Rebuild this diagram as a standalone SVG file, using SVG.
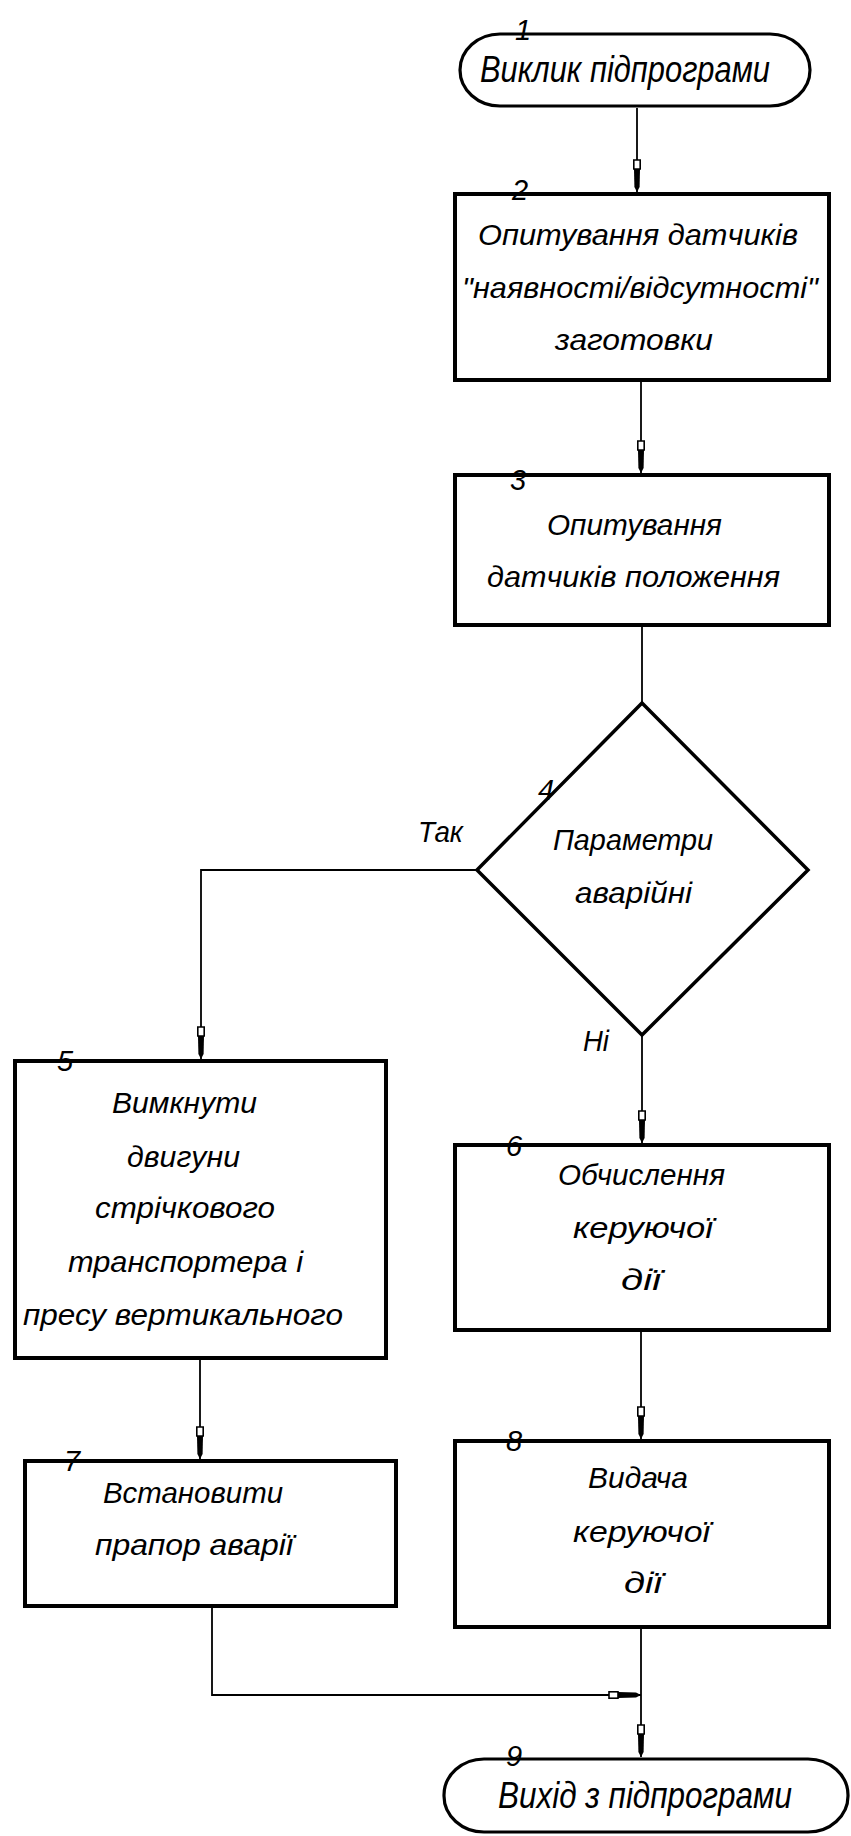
<svg xmlns="http://www.w3.org/2000/svg" width="851" height="1836" viewBox="0 0 851 1836">
<style>
  .bg { fill: #ffffff; }
  .box { fill: #ffffff; stroke: #000; stroke-width: 4; }
  .term { fill: #ffffff; stroke: #000; stroke-width: 3.2; }
  .dia { fill: #ffffff; stroke: #000; stroke-width: 3.5; stroke-linejoin: miter; }
  .con { fill: none; stroke: #000; stroke-width: 1.8; }
  .t { font-family: "Liberation Sans", "DejaVu Sans", sans-serif; font-style: italic; font-size: 30px; fill: #000; }
  .tt { font-family: "Liberation Sans", "DejaVu Sans", sans-serif; font-style: italic; font-size: 37px; fill: #000; }
  .n { font-family: "Liberation Sans", "DejaVu Sans", sans-serif; font-style: italic; font-size: 29px; fill: #000; text-anchor: middle; }
  .lbl { font-family: "Liberation Sans", "DejaVu Sans", sans-serif; font-style: italic; font-size: 30px; fill: #000; }
</style>
<defs>
  <marker id="arr" markerUnits="userSpaceOnUse" markerWidth="34" markerHeight="10" viewBox="0 -5 34 10" refX="33" refY="0" orient="auto">
    <rect x="1" y="-3.2" width="9" height="6.4" fill="#fff" stroke="#000" stroke-width="1.6"/>
    <path d="M10,-3 L28,-2.6 L33,0 L28,2.6 L10,3 Z" fill="#000"/>
  </marker>
</defs>
<rect class="bg" x="0" y="0" width="851" height="1836"/>

<g id="connectors">
  <path class="con" d="M637,108 V192" marker-end="url(#arr)"/>
  <path class="con" d="M641,382 V473" marker-end="url(#arr)"/>
  <path class="con" d="M642,626 V703"/>
  <path class="con" d="M477,870 H201 V1059" marker-end="url(#arr)"/>
  <path class="con" d="M642,1035 V1143" marker-end="url(#arr)"/>
  <path class="con" d="M200,1360 V1459" marker-end="url(#arr)"/>
  <path class="con" d="M641,1332 V1439" marker-end="url(#arr)"/>
  <path class="con" d="M212,1608 V1695 H641" marker-end="url(#arr)"/>
  <path class="con" d="M641,1629 V1757" marker-end="url(#arr)"/>
  <text class="lbl" x="418" y="842" textLength="45" lengthAdjust="spacingAndGlyphs">Так</text>
  <text class="lbl" x="583" y="1051" textLength="26" lengthAdjust="spacingAndGlyphs">Ні</text>
</g>

<g id="node1">
  <rect class="term" x="460" y="34" width="350" height="72" rx="40" ry="36"/>
  <text class="tt" x="480" y="82" textLength="290" lengthAdjust="spacingAndGlyphs">Виклик підпрограми</text>
  <text class="n" x="523" y="40">1</text>
</g>

<g id="node2">
  <rect class="box" x="455" y="194" width="374" height="186"/>
  <text class="t" x="478" y="245" textLength="320" lengthAdjust="spacingAndGlyphs">Опитування датчиків</text>
  <text class="t" x="462" y="298" textLength="356" lengthAdjust="spacingAndGlyphs">"наявності/відсутності"</text>
  <text class="t" x="555" y="350" textLength="158" lengthAdjust="spacingAndGlyphs">заготовки</text>
  <text class="n" x="520" y="200">2</text>
</g>

<g id="node3">
  <rect class="box" x="455" y="475" width="374" height="150"/>
  <text class="t" x="547" y="535" textLength="175" lengthAdjust="spacingAndGlyphs">Опитування</text>
  <text class="t" x="487" y="587" textLength="293" lengthAdjust="spacingAndGlyphs">датчиків положення</text>
  <text class="n" x="518" y="490">3</text>
</g>

<g id="node4">
  <polygon class="dia" points="642,703 808,870 642,1035 477,870"/>
  <text class="t" x="553" y="850" textLength="160" lengthAdjust="spacingAndGlyphs">Параметри</text>
  <text class="t" x="575" y="903" textLength="117" lengthAdjust="spacingAndGlyphs">аварійні</text>
  <text class="n" x="546" y="800">4</text>
</g>

<g id="node5">
  <rect class="box" x="15" y="1061" width="371" height="297"/>
  <text class="t" x="112" y="1113" textLength="145" lengthAdjust="spacingAndGlyphs">Вимкнути</text>
  <text class="t" x="127" y="1167" textLength="113" lengthAdjust="spacingAndGlyphs">двигуни</text>
  <text class="t" x="95" y="1218" textLength="180" lengthAdjust="spacingAndGlyphs">стрічкового</text>
  <text class="t" x="68" y="1272" textLength="235" lengthAdjust="spacingAndGlyphs">транспортера і</text>
  <text class="t" x="23" y="1325" textLength="320" lengthAdjust="spacingAndGlyphs">пресу вертикального</text>
  <text class="n" x="65" y="1071">5</text>
</g>

<g id="node6">
  <rect class="box" x="455" y="1145" width="374" height="185"/>
  <text class="t" x="558" y="1185" textLength="167" lengthAdjust="spacingAndGlyphs">Обчислення</text>
  <text class="t" x="573" y="1238" textLength="140" lengthAdjust="spacingAndGlyphs">керуючої</text>
  <text class="t" x="621" y="1290" textLength="40" lengthAdjust="spacingAndGlyphs">дії</text>
  <text class="n" x="514" y="1156">6</text>
</g>

<g id="node7">
  <rect class="box" x="25" y="1461" width="371" height="145"/>
  <text class="t" x="103" y="1503" textLength="180" lengthAdjust="spacingAndGlyphs">Встановити</text>
  <text class="t" x="95" y="1555" textLength="198" lengthAdjust="spacingAndGlyphs">прапор аварії</text>
  <text class="n" x="72" y="1471">7</text>
</g>

<g id="node8">
  <rect class="box" x="455" y="1441" width="374" height="186"/>
  <text class="t" x="588" y="1488" textLength="100" lengthAdjust="spacingAndGlyphs">Видача</text>
  <text class="t" x="573" y="1542" textLength="137" lengthAdjust="spacingAndGlyphs">керуючої</text>
  <text class="t" x="624" y="1593" textLength="38" lengthAdjust="spacingAndGlyphs">дії</text>
  <text class="n" x="514" y="1451">8</text>
</g>

<g id="node9">
  <rect class="term" x="444" y="1759" width="404" height="73" rx="40" ry="36"/>
  <text class="tt" x="498" y="1808" textLength="294" lengthAdjust="spacingAndGlyphs">Вихід з підпрограми</text>
  <text class="n" x="514" y="1766">9</text>
</g>
</svg>
